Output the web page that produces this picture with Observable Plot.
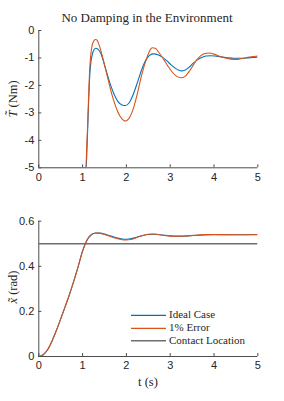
<!DOCTYPE html>
<html>
<head>
<meta charset="utf-8">
<script src="https://cdn.jsdelivr.net/npm/d3@7"></script>
<script src="https://cdn.jsdelivr.net/npm/@observablehq/plot@0.6"></script>
<style>
  html, body { margin: 0; padding: 0; background: #fff; }
  #wrap { position: relative; width: 284px; height: 401px; overflow: hidden; }
  .abs { position: absolute; }
  .serif { font-family: "Liberation Serif", "Times New Roman", serif; color: #262626; white-space: nowrap; }
</style>
</head>
<body>
<div id="wrap"></div>
<script>
// ---------- data ----------
const tTopIdeal = [0, 1.08, 1.10, 1.12, 1.14, 1.165, 1.19, 1.22, 1.26, 1.30, 1.35, 1.42, 1.50, 1.60, 1.70, 1.80, 1.90, 1.98, 2.06, 2.15, 2.25, 2.35, 2.45, 2.53, 2.63, 2.72, 2.82, 2.92, 3.02, 3.12, 3.20, 3.26, 3.33, 3.42, 3.52, 3.62, 3.72, 3.82, 3.92, 4.02, 4.15, 4.30, 4.45, 4.60, 4.75, 4.90, 5.0];
const torqueIdeal = [-5, -5, -4.3, -3.4, -2.5, -1.6, -1.15, -0.88, -0.70, -0.645, -0.68, -0.85, -1.25, -1.80, -2.25, -2.57, -2.71, -2.73, -2.64, -2.35, -1.90, -1.42, -1.06, -0.90, -0.85, -0.88, -0.97, -1.10, -1.25, -1.38, -1.45, -1.47, -1.45, -1.35, -1.20, -1.07, -0.98, -0.93, -0.92, -0.93, -0.96, -0.99, -1.01, -1.01, -1.00, -0.98, -0.97];

const tTopError = [0, 1.075, 1.095, 1.115, 1.135, 1.155, 1.18, 1.21, 1.25, 1.29, 1.32, 1.36, 1.42, 1.50, 1.60, 1.70, 1.80, 1.90, 1.97, 2.05, 2.15, 2.25, 2.35, 2.45, 2.52, 2.59, 2.66, 2.75, 2.85, 2.95, 3.05, 3.15, 3.25, 3.33, 3.43, 3.53, 3.63, 3.73, 3.83, 3.90, 4.00, 4.15, 4.30, 4.45, 4.55, 4.70, 4.85, 5.0];
const torqueError = [-5, -5, -4.2, -3.46, -2.5, -1.64, -1.00, -0.60, -0.40, -0.33, -0.34, -0.45, -0.75, -1.25, -1.90, -2.50, -2.95, -3.22, -3.30, -3.22, -2.88, -2.30, -1.62, -1.07, -0.78, -0.63, -0.65, -0.82, -1.05, -1.30, -1.52, -1.67, -1.72, -1.68, -1.50, -1.25, -1.02, -0.88, -0.83, -0.82, -0.86, -0.95, -1.02, -1.05, -1.05, -1.00, -0.96, -0.93];

const tBottom = [0, 0.1, 0.2, 0.3, 0.4, 0.5, 0.6, 0.7, 0.8, 0.9, 1.0, 1.1, 1.2, 1.3, 1.4, 1.5, 1.6, 1.7, 1.8, 1.9, 2.0, 2.1, 2.2, 2.3, 2.4, 2.5, 2.6, 2.7, 2.8, 2.9, 3.0, 3.2, 3.4, 3.6, 3.8, 4.0, 4.5, 5.0];
const posIdeal = [0, 0.008, 0.03, 0.068, 0.115, 0.167, 0.22, 0.275, 0.335, 0.400, 0.468, 0.516, 0.540, 0.548, 0.547, 0.543, 0.537, 0.531, 0.525, 0.521, 0.520, 0.522, 0.527, 0.533, 0.538, 0.541, 0.542, 0.541, 0.539, 0.537, 0.535, 0.534, 0.535, 0.537, 0.539, 0.540, 0.540, 0.540];
const posError = [0, 0.008, 0.03, 0.068, 0.115, 0.167, 0.22, 0.275, 0.335, 0.400, 0.468, 0.517, 0.541, 0.548, 0.546, 0.541, 0.535, 0.528, 0.522, 0.518, 0.517, 0.519, 0.525, 0.532, 0.538, 0.542, 0.543, 0.542, 0.539, 0.536, 0.534, 0.533, 0.535, 0.538, 0.541, 0.541, 0.540, 0.541];
const contactLocation = 0.5;

const xTicks = [0, 1, 2, 3, 4, 5];
const yTopTicks = [0, -1, -2, -3, -4, -5];
const yBottomTicks = [0, 0.2, 0.4, 0.6];
const yBottomLabels = ["0", "0.2", "0.4", "0.6"];
const seriesNames = ["Ideal Case", "1% Error", "Contact Location"];
const colors = ["#0072BD", "#D95319", "#6e6e6e"];
const titleText = "No Damping in the Environment";

// ---------- helpers ----------
const zip = (ts, vs) => ts.map((t, i) => ({t, v: vs[i]}));
const axisColor = "#4d4d4d";
const tickFont = {fontFamily: "'Liberation Sans', Arial, sans-serif", fontSize: "11px", color: "#262626", background: "transparent"};

function axes(yTicks, yFmt, yMin) {
  return [
    Plot.ruleX([0], {stroke: axisColor, strokeWidth: 1}),
    Plot.ruleY([yMin], {stroke: axisColor, strokeWidth: 1}),
    Plot.axisX({ticks: xTicks, tickSize: 0, tickPadding: 5, tickFormat: d => String(d), fill: "#262626", label: null}),
    Plot.axisX({ticks: xTicks, tickSize: 3, dy: -3, text: null, stroke: axisColor, label: null}),
    Plot.axisY({ticks: yTicks, tickSize: 0, tickPadding: 4.5, tickFormat: yFmt, fill: "#262626", label: null}),
    Plot.axisY({ticks: yTicks, tickSize: 3, dx: 3, text: null, stroke: axisColor, label: null})
  ];
}

const wrap = document.getElementById("wrap");

// ---------- top plot ----------
const topPlot = Plot.plot({
  width: 284, height: 195,
  marginLeft: 38.3, marginRight: 26.7, marginTop: 30, marginBottom: 27.7,
  style: tickFont,
  x: {domain: [0, 5], label: null},
  y: {domain: [-5, 0], label: null},
  marks: [
    ...axes(yTopTicks, d => String(d), -5),
    Plot.line(zip(tTopIdeal, torqueIdeal), {x: "t", y: "v", stroke: colors[0], strokeWidth: 1.1, curve: "monotone-x", clip: true}),
    Plot.line(zip(tTopError, torqueError), {x: "t", y: "v", stroke: colors[1], strokeWidth: 1.1, curve: "monotone-x", clip: true})
  ]
});
topPlot.classList.add("abs");
topPlot.style.left = "0px"; topPlot.style.top = "0px";
wrap.appendChild(topPlot);

// ---------- bottom plot ----------
const bottomPlot = Plot.plot({
  width: 284, height: 201,
  marginLeft: 38.3, marginRight: 26.7, marginTop: 20.7, marginBottom: 45,
  style: tickFont,
  x: {domain: [0, 5], label: null},
  y: {domain: [0, 0.6], label: null},
  marks: [
    ...axes(yBottomTicks, d => yBottomLabels[yBottomTicks.indexOf(d)], 0),
    Plot.ruleY([contactLocation], {stroke: colors[2], strokeWidth: 1.6}),
    Plot.line(zip(tBottom, posIdeal), {x: "t", y: "v", stroke: colors[0], strokeWidth: 1.1, curve: "monotone-x", clip: true}),
    Plot.line(zip(tBottom, posError), {x: "t", y: "v", stroke: colors[1], strokeWidth: 1.1, curve: "monotone-x", clip: true})
  ]
});
bottomPlot.classList.add("abs");
bottomPlot.style.left = "0px"; bottomPlot.style.top = "200px";
wrap.appendChild(bottomPlot);

// ---------- text ----------
function addText(html, css) {
  const d = document.createElement("div");
  d.className = "abs serif";
  d.innerHTML = html;
  Object.assign(d.style, css);
  wrap.appendChild(d);
  return d;
}
addText(titleText, {left: "0px", width: "294px", textAlign: "center", top: "10px", fontSize: "13px"});
addText("<i>T&#771;</i> (Nm)", {left: "13px", top: "99px", fontSize: "12.5px", transform: "translate(-50%,-50%) rotate(-90deg)"});
addText("<i>x&#771;</i> (rad)", {left: "13px", top: "287px", fontSize: "12.5px", transform: "translate(-50%,-50%) rotate(-90deg)"});
addText("t (s)", {left: "148px", top: "382px", fontSize: "12.5px", transform: "translate(-50%,-50%)"});

// ---------- legend ----------
const rowsY = [315.3, 328.3, 340.7];
const legendSvg = document.createElementNS("http://www.w3.org/2000/svg", "svg");
legendSvg.setAttribute("width", "284");
legendSvg.setAttribute("height", "401");
legendSvg.setAttribute("class", "abs");
legendSvg.style.left = "0px"; legendSvg.style.top = "0px";
wrap.appendChild(legendSvg);
seriesNames.forEach((name, i) => {
  const ln = document.createElementNS("http://www.w3.org/2000/svg", "line");
  ln.setAttribute("x1", 131); ln.setAttribute("x2", 166);
  ln.setAttribute("y1", rowsY[i]); ln.setAttribute("y2", rowsY[i]);
  ln.setAttribute("stroke", colors[i]);
  ln.setAttribute("stroke-width", i === 2 ? 1.6 : 1.3);
  legendSvg.appendChild(ln);
  addText(name, {left: "169px", top: rowsY[i] + "px", fontSize: "11px", transform: "translateY(-55%)"});
});
</script>
</body>
</html>
